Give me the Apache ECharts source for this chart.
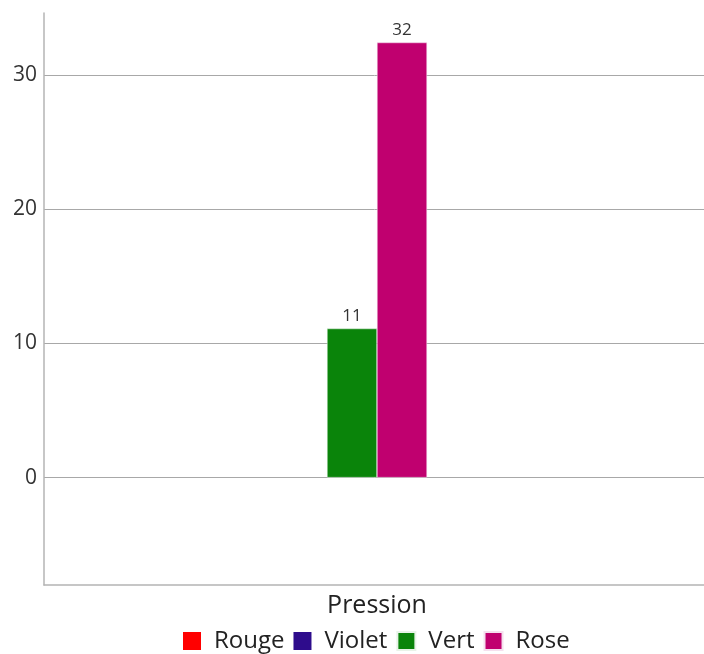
<!DOCTYPE html>
<html>
<head>
<meta charset="utf-8">
<script src="https://cdn.jsdelivr.net/npm/echarts@6/dist/echarts.min.js"></script>
<style>html,body{margin:0;padding:0;background:#fff}#c{width:704px;height:654px}</style>
</head>
<body>
<div id="c"></div>
<script>
const categories = ['Pression'];
const seriesNames = ['Rouge', 'Violet', 'Vert', 'Rose'];
const rougeValues = [];
const violetValues = [];
const vertValues = [11.1];
const roseValues = [32.4];
const yTicks = [0, 10, 20, 30];
const colors = ['#ff0000', '#2e0c8c', '#0a840a', '#c0006f'];

const chart = echarts.init(document.getElementById('c'));
const font = '"Open Sans", "Noto Sans", sans-serif';
const labelCfg = {
  show: true, position: 'top', distance: 4,
  fontFamily: font, fontSize: 17, color: '#333',
  formatter: p => Math.round(p.value)
};
chart.setOption({
  animation: false,
  textStyle: { fontFamily: font },
  legend: {
    data: seriesNames,
    bottom: -4, left: 178,
    itemWidth: 18, itemHeight: 18, itemGap: 9,
    icon: 'rect',
    textStyle: { fontFamily: font, fontSize: 24, color: '#222', padding: [0, 0, 0, 8] }
  },
  grid: { left: 44, right: -6, top: 13, bottom: 69, outerBoundsMode: 'none' },
  xAxis: [{
    type: 'category', data: categories,
    axisLine: { onZero: false, lineStyle: { color: '#b4b4b4', width: 1.5 } },
    axisTick: { show: false },
    axisLabel: { fontFamily: font, fontSize: 25, color: '#222', margin: 8 }
  }, {
    type: 'category', data: categories, show: false
  }],
  yAxis: {
    type: 'value', min: -8, max: 34.6,
    axisLine: { show: true, lineStyle: { color: '#b4b4b4', width: 1.5 } },
    axisTick: { show: false, customValues: yTicks },
    axisLabel: { customValues: yTicks, fontFamily: font, fontSize: 21, color: '#333', margin: 7 },
    splitLine: { show: true, lineStyle: { color: '#a8a8a8', width: 1 } }
  },
  series: [
    { name: 'Rouge', type: 'bar', xAxisIndex: 1, data: rougeValues, itemStyle: { color: colors[0] } },
    { name: 'Violet', type: 'bar', xAxisIndex: 1, data: violetValues, itemStyle: { color: colors[1] } },
    { name: 'Vert', type: 'bar', data: vertValues, barWidth: 50, barGap: '0%',
      itemStyle: { color: colors[2], borderColor: '#e8f3e8', borderWidth: 0.5 }, label: labelCfg },
    { name: 'Rose', type: 'bar', data: roseValues, barWidth: 50, barGap: '0%',
      itemStyle: { color: colors[3], borderColor: '#f5e0ee', borderWidth: 0.5 }, label: labelCfg }
  ]
});
</script>
</body>
</html>
